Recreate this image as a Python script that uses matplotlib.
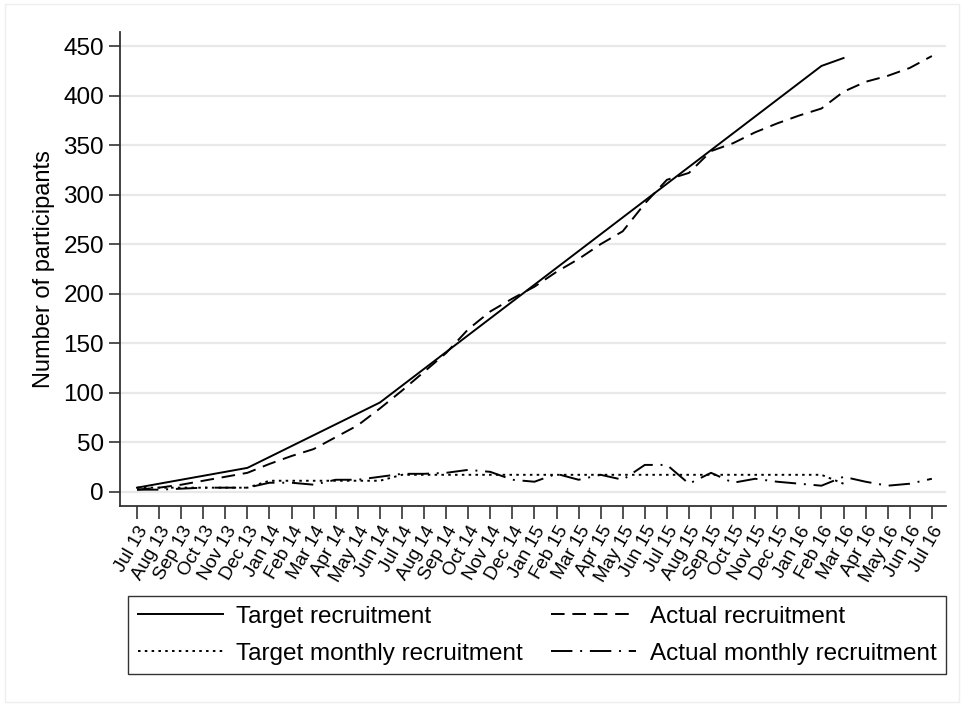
import numpy as np
import matplotlib
matplotlib.use('Agg')
import matplotlib.pyplot as plt
from matplotlib.patches import Rectangle

plt.rcParams['font.family'] = ['Liberation Sans', 'DejaVu Sans']

months = ['Jul 13', 'Aug 13', 'Sep 13', 'Oct 13', 'Nov 13', 'Dec 13',
          'Jan 14', 'Feb 14', 'Mar 14', 'Apr 14', 'May 14', 'Jun 14',
          'Jul 14', 'Aug 14', 'Sep 14', 'Oct 14', 'Nov 14', 'Dec 14',
          'Jan 15', 'Feb 15', 'Mar 15', 'Apr 15', 'May 15', 'Jun 15',
          'Jul 15', 'Aug 15', 'Sep 15', 'Oct 15', 'Nov 15', 'Dec 15',
          'Jan 16', 'Feb 16', 'Mar 16', 'Apr 16', 'May 16', 'Jun 16',
          'Jul 16']

# target series stop at Mar 16
target_cum = [4, 8, 12, 16, 20, 24, 35, 46, 57, 68, 79, 90,
              107, 124, 141, 158, 175, 192, 209, 226, 243, 260, 277, 294,
              311, 328, 345, 362, 379, 396, 413, 430, 438]
target_month = [4, 4, 4, 4, 4, 4, 11, 11, 11, 11, 11, 11,
                17, 17, 17, 17, 17, 17, 17, 17, 17, 17, 17, 17,
                17, 17, 17, 17, 17, 17, 17, 17, 8]
actual_cum = [2, 4, 7, 11, 15, 19, 28, 36, 43, 55, 67, 84,
              102, 121, 140, 164, 182, 195, 207, 222, 235, 250, 263, 291,
              315, 322, 344, 352, 363, 372, 380, 387, 404, 414, 420, 428, 440]
actual_month = [2, 2, 3, 4, 4, 4, 9, 9, 7, 12, 12, 15,
                18, 18, 19, 22, 20, 12, 10, 18, 12, 17, 12, 27,
                27, 8, 19, 9, 13, 10, 8, 6, 15, 10, 6, 8, 13]

fig = plt.figure(figsize=(9.64, 7.06), dpi=100)
ax = fig.add_axes([0.1245, 0.2826, 0.8568, 0.6725])

x_t = np.arange(len(target_cum))
x_a = np.arange(len(actual_cum))
lw = 1.4
l1, = ax.plot(x_t, target_cum, color='black', lw=lw, ls='-')
l2, = ax.plot(x_a, actual_cum, color='black', lw=lw, ls=(0, (7, 4)))
l3, = ax.plot(x_t, target_month, color='black', lw=lw, ls=(0, (1.3, 2.2)))
l4, = ax.plot(x_a, actual_month, color='black', lw=lw, ls=(0, (11, 4, 1, 4)))

ax.set_xlim(-0.77, 36.64)
ax.set_ylim(-15, 464.6)
ax.set_yticks(np.arange(0, 451, 50))
ax.set_xticks(np.arange(len(months)))
ax.set_xticklabels(months, rotation=60, ha='right', rotation_mode='anchor',
                   fontsize=13.5)
ax.tick_params(axis='y', labelsize=17.5, length=8, width=1.2, color='#333333')
ax.tick_params(axis='x', length=9, width=1.2, color='#333333', pad=3)
ax.yaxis.grid(True, color='#e8e8e8', lw=1.6)
ax.set_axisbelow(True)
for s in ['top', 'right']:
    ax.spines[s].set_visible(False)
for s in ['left', 'bottom']:
    ax.spines[s].set_linewidth(1.3)
    ax.spines[s].set_color('#333333')
ax.set_ylabel('Number of participants', fontsize=17, labelpad=6)

# column-wise fill: col 1 target lines, col 2 actual lines
handles = [l1, l3, l2, l4]
labels = ['Target recruitment', 'Target monthly recruitment',
          'Actual recruitment', 'Actual monthly recruitment']
leg = fig.legend(handles, labels, loc='upper left',
                 bbox_to_anchor=(0.133, 0.156), ncol=2, fontsize=17.5,
                 handlelength=3.5, frameon=True, fancybox=False,
                 borderaxespad=0, handletextpad=0.55, columnspacing=1.15,
                 labelspacing=0.62, borderpad=0.4)
leg.get_frame().set_edgecolor('black')
leg.get_frame().set_linewidth(1.0)

fig.patches.append(Rectangle((0.005, 0.005), 0.99, 0.99, transform=fig.transFigure,
                             fill=False, edgecolor='#eeeeee', lw=1))

fig.savefig('out.png', dpi=100)
